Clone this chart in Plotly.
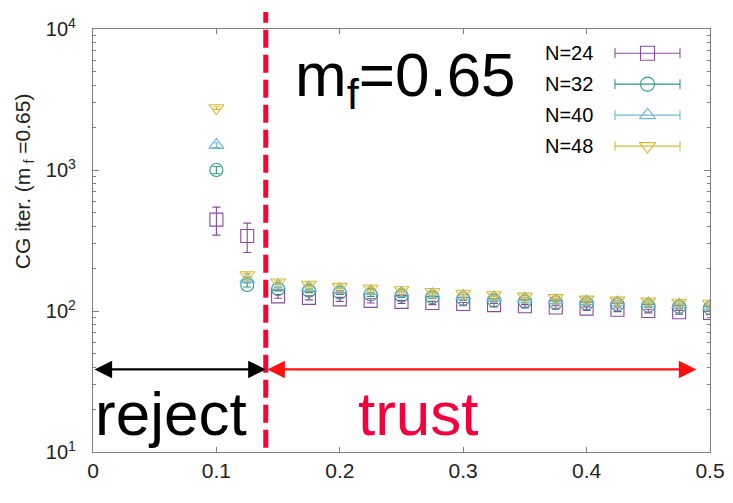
import numpy as np
import plotly.graph_objects as go

# ---------------- data ----------------
m_vals = [0.1, 0.125, 0.15, 0.175, 0.2, 0.225, 0.25, 0.275, 0.3, 0.325,
          0.35, 0.375, 0.4, 0.425, 0.45, 0.475, 0.5]
n24 = [445, 340, 127, 124, 121, 118, 116, 114, 112, 110, 108, 106, 104, 102, 100, 98, 97]
n24_err = [100, 80, 4, 4, 4, 4, 3, 3, 3, 3, 3, 3, 3, 3, 3, 3, 3]
n32 = [1000, 153, 143, 139, 135, 131, 128, 125, 122, 119, 117, 115, 113, 111, 109, 107, 105]
n32_err = [60, 5, 4, 4, 4, 4, 3, 3, 3, 3, 3, 3, 3, 3, 3, 3, 3]
n40 = [1500, 168, 151, 146, 142, 138, 134, 131, 128, 125, 122, 119, 117, 115, 113, 111, 109]
n40_err = [60, 5, 4, 4, 4, 4, 3, 3, 3, 3, 3, 3, 3, 3, 3, 3, 3]
n48 = [2750, 180, 160, 154, 149, 145, 141, 137, 133, 130, 127, 124, 121, 119, 117, 115, 113]
n48_err = [60, 5, 4, 4, 4, 4, 3, 3, 3, 3, 3, 3, 3, 3, 3, 3, 3]

labels = ["N=24", "N=32", "N=40", "N=48"]
series = [n24, n32, n40, n48]
errors = [n24_err, n32_err, n40_err, n48_err]
colors = ["#8a4a9e", "#2e9a82", "#6fb7cf", "#d9b938"]
symbols = ["square-open", "circle-open", "triangle-up-open", "triangle-down-open"]

cut = 0.14          # reject / trust boundary
arrow_y = 38.5      # height of the region arrows
x_ticks = [0, 0.1, 0.2, 0.3, 0.4, 0.5]
y_ticks = [10, 100, 1000, 10000]
y_ticktext = ["10<sup>1</sup>", "10<sup>2</sup>", "10<sup>3</sup>", "10<sup>4</sup>"]

FONT = "Liberation Sans, Arial, sans-serif"

# page layout (the browser body adds an 8px offset)
OFF = 8
PX_L, PX_R, PX_T, PX_B = 93, 710, 15, 452
W, H = 733 - OFF, 503 - OFF

fig = go.Figure()
for lab, ys, es, c, s in zip(labels, series, errors, colors, symbols):
    fig.add_trace(go.Scatter(
        x=m_vals, y=ys, mode="markers", name=lab, showlegend=False,
        marker=dict(symbol=s, size=13, color=c, line=dict(width=1.1, color=c)),
        error_y=dict(type="data", array=es, visible=True, color=c,
                     thickness=1.1, width=4),
    ))

# ---- manual gnuplot-style legend (text left, sample right) ----
row_y = [40, 72, 104, 136]
for lab, c, s, ry in zip(labels, colors, symbols, row_y):
    fig.add_trace(go.Scatter(
        x=[615, 680], y=[ry, ry], mode="lines", xaxis="x2", yaxis="y2",
        line=dict(color=c, width=1.1), showlegend=False, hoverinfo="skip"))
    fig.add_trace(go.Scatter(
        x=[615, 680], y=[ry, ry], mode="markers", xaxis="x2", yaxis="y2",
        marker=dict(symbol="line-ns-open", size=7, color=c,
                    line=dict(width=1.1, color=c)),
        showlegend=False, hoverinfo="skip"))
    fig.add_trace(go.Scatter(
        x=[647.5], y=[ry], mode="markers", xaxis="x2", yaxis="y2",
        marker=dict(symbol=s, size=14, color=c, line=dict(width=1.1, color=c)),
        showlegend=False, hoverinfo="skip"))
    fig.add_annotation(x=543, y=ry, xref="x2", yref="y2", text=lab,
                       showarrow=False, xanchor="left", yanchor="middle",
                       font=dict(family=FONT, size=20, color="black"))

# ---- dashed boundary ----
fig.add_shape(type="line", x0=cut, x1=cut, xref="x", y0=0.01, y1=1.04,
              yref="paper", line=dict(color="#ff0033", width=5, dash="18px,7px"))

# ---- region arrows ----
ly = np.log10(arrow_y)
fig.add_annotation(x=cut, y=ly, ax=0.0, ay=ly, xref="x", yref="y",
                   axref="x", ayref="y", text="", showarrow=True,
                   arrowhead=2, arrowside="end+start", arrowsize=1.6,
                   arrowwidth=2.2, arrowcolor="black", standoff=0, startstandoff=0)
fig.add_annotation(x=0.489, y=ly, ax=cut, ay=ly, xref="x", yref="y",
                   axref="x", ayref="y", text="", showarrow=True,
                   arrowhead=2, arrowside="end+start", arrowsize=1.6,
                   arrowwidth=2.2, arrowcolor="#ff1010", standoff=0, startstandoff=0)

# ---- big texts ----
fig.add_annotation(x=0.0, y=np.log10(18.8), xref="x", yref="y", text="reject",
                   showarrow=False, xanchor="left", yanchor="middle",
                   font=dict(family=FONT, size=62, color="black"))
fig.add_annotation(x=0.2635, y=np.log10(18.8), xref="x", yref="y", text="trust",
                   showarrow=False, xanchor="center", yanchor="middle",
                   font=dict(family=FONT, size=62, color="#f5003c"))
fig.add_annotation(x=0.253, y=np.log10(4400), xref="x", yref="y",
                   text="m<sub>f</sub>=0.65", showarrow=False,
                   xanchor="center", yanchor="middle",
                   font=dict(family=FONT, size=62, color="black"))

# ---- y-axis title ----
fig.add_annotation(x=-0.112, y=0.64, xref="paper", yref="paper",
                   text="CG iter. (m<sub> f</sub> =0.65)", textangle=-90,
                   showarrow=False, xanchor="center", yanchor="middle",
                   font=dict(family=FONT, size=21, color="#222222"))

axis_line = dict(showline=True, linecolor="#7f7f7f", linewidth=1.2, mirror="ticks",
                 ticks="inside", tickcolor="#7f7f7f", showgrid=False, zeroline=False,
                 ticklabeloverflow="allow")

fig.update_layout(
    width=W, height=H,
    margin=dict(l=PX_L - OFF, r=W - (PX_R - OFF), t=PX_T - OFF, b=H - (PX_B - OFF)),
    paper_bgcolor="white", plot_bgcolor="white",
    font=dict(family=FONT, size=20, color="#222222"),
    xaxis=dict(range=[0, 0.5], tickvals=x_ticks, ticklen=5, **axis_line,
               tickfont=dict(size=21)),
    yaxis=dict(type="log", range=[1, 4], tickvals=y_ticks, ticktext=y_ticktext,
               ticklen=6, ticklabelstandoff=12, **axis_line, tickfont=dict(size=20),
               minor=dict(ticks="inside", ticklen=3, dtick="D1", tickcolor="#7f7f7f")),
    xaxis2=dict(range=[PX_L, PX_R], overlaying="x", visible=False, fixedrange=True),
    yaxis2=dict(range=[PX_B, PX_T], overlaying="y", visible=False, fixedrange=True),
)

fig.write_html("out.html")
